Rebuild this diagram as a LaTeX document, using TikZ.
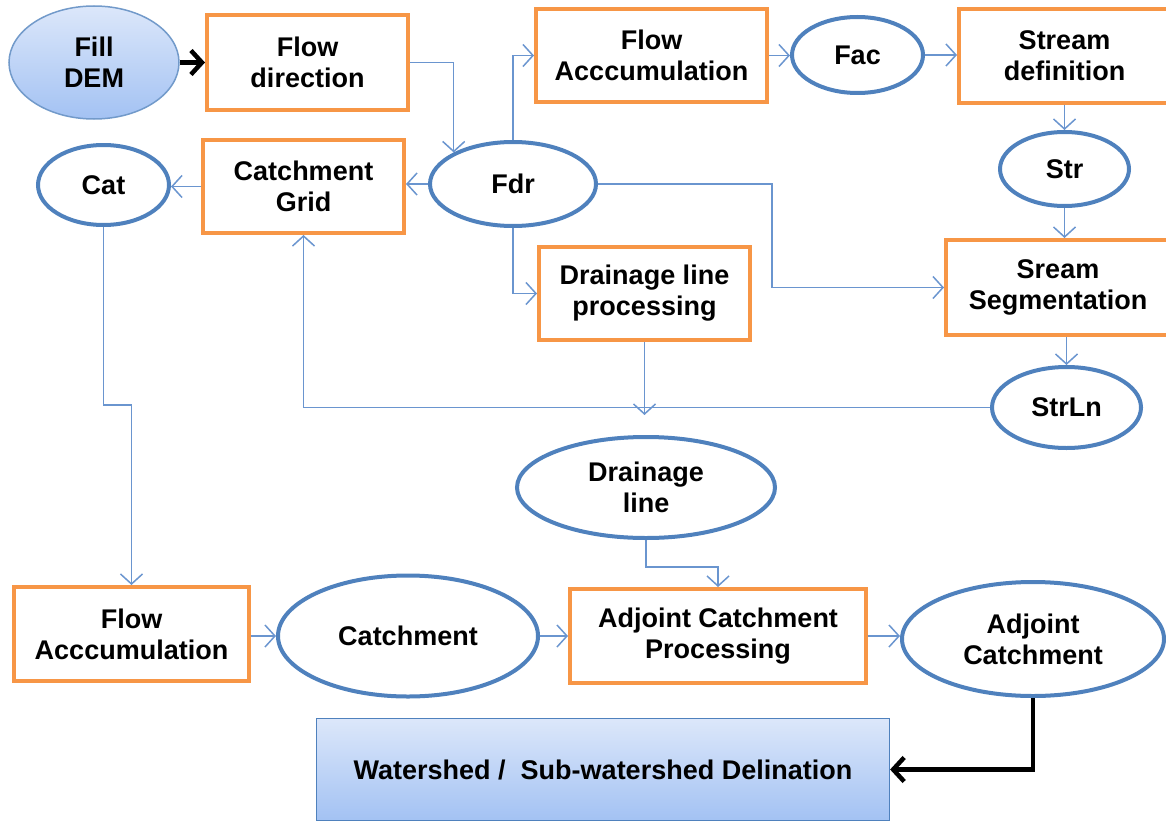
\documentclass[tikz,border=0pt]{standalone}
\usepackage{fontspec}
\setmainfont{Liberation Sans}
\usetikzlibrary{shapes.geometric,arrows.meta}
\definecolor{orng}{HTML}{F79646}
\definecolor{eblue}{HTML}{4F81BD}
\definecolor{lblue}{HTML}{6A95CF}
\definecolor{gtop}{HTML}{DCE7FA}
\definecolor{gbot}{HTML}{A3C2F3}
\tikzset{
  box/.style={draw=orng, line width=4pt, fill=white, rectangle, align=center, inner sep=2pt,
    font=\fontsize{27}{31}\selectfont\bfseries},
  ell/.style={draw=eblue, line width=4pt, fill=white, ellipse, align=center, inner sep=0pt,
    font=\fontsize{27}{31}\selectfont\bfseries},
  ln/.style={draw=lblue, line width=1.5pt, -{Straight Barb[length=10pt,width=22pt]}},
  bk/.style={draw=black, line width=4.5pt, -{Straight Barb[length=11pt,width=24pt]}},
}
\begin{document}
\begin{tikzpicture}[x=1pt,y=-1pt]
\useasboundingbox (0,0) rectangle (1166,824);
% nodes
\node[ell, draw=eblue!80, line width=1.5pt, top color=gtop, bottom color=gbot,
      minimum width=170pt, minimum height=113pt] (dem) at (94,62.5) {Fill\\DEM};
\node[box, minimum width=201pt, minimum height=95pt] (fd) at (307.5,62.5) {Flow\\direction};
\node[box, minimum width=201pt, minimum height=93pt] (cg) at (303.5,186.5) {Catchment\\Grid};
\node[ell, minimum width=131pt, minimum height=80pt] (cat) at (103.5,185) {Cat};
\node[ell, minimum width=166pt, minimum height=84pt] (fdr) at (513,184) {Fdr};
\node[box, minimum width=231pt, minimum height=93pt] (fa1) at (651.5,55.5) {Flow\\Acccumulation};
\node[ell, minimum width=131pt, minimum height=76pt] (fac) at (857.5,55) {Fac};
\node[box, minimum width=211pt, minimum height=94pt] (sd) at (1064.5,56) {Stream\\definition};
\node[ell, minimum width=129pt, minimum height=74pt] (str) at (1064.5,169) {Str};
\node[box, minimum width=224pt, minimum height=95pt] (seg) at (1058,287.5) {Sream\\Segmentation};
\node[ell, minimum width=149pt, minimum height=81pt] (strln) at (1066.5,407.5) {StrLn};
\node[box, minimum width=211pt, minimum height=93pt] (dlp) at (644.5,293.5) {Drainage line\\processing};
\coordinate (j) at (644.5,415);
\node[ell, minimum width=258pt, minimum height=101pt] (dl) at (646,487.5) {Drainage\\line};
\node[box, minimum width=235pt, minimum height=94pt] (fa2) at (131.5,634) {Flow\\Acccumulation};
\node[ell, minimum width=260pt, minimum height=121pt] (catch) at (408,636) {Catchment};
\node[box, minimum width=296pt, minimum height=94pt] (acp) at (718,636) {Adjoint Catchment\\Processing};
\node[ell, minimum width=262pt, minimum height=114pt] (ac) at (1033,639) {Adjoint\\Catchment};
\node[draw=eblue, line width=1.2pt, top color=gtop, bottom color=gbot, rectangle,
      minimum width=573pt, minimum height=102pt,
      font=\fontsize{27}{31}\selectfont\bfseries] (ws) at (603,769.5) {Watershed /\ \ Sub-watershed Delination};
% connectors
\draw[bk] (dem.east) -- (fd.west);
\draw[ln] (fd.east) -| (fdr.152);
\draw[ln] (fdr.north) |- (fa1.west);
\draw[ln] (fa1.east) -- (fa1.east -| fac.west);
\draw[ln] (fac.east) -- (fac.east -| sd.west);
\draw[ln] (sd.south) -- (str.north);
\draw[ln] (str.south) -- (str.south |- seg.north);
\draw[ln] (seg.south -| strln.north) -- (strln.north);
\draw[ln] (fdr.east) -- ++(174,0) |- (seg.west);
\draw[ln] (fdr.west) -- (fdr.west -| cg.east);
\draw[ln] (cg.west) -- (cg.west -| cat.east);
\draw[ln] (fdr.south) |- (dlp.west);
\draw[ln] (dlp.south) -- (j);
\draw[ln] (strln.west) -| (cg.south);
\draw[ln] (cat.south) -- ++(0,178) -| (fa2.north);
\draw[ln] (dl.south) -- ++(0,27) -| (acp.north);
\draw[ln] (fa2.east |- catch.west) -- (catch.west);
\draw[ln] (catch.east) -- (acp.west);
\draw[ln] (acp.east) -- (acp.east -| ac.west);
\draw[bk] (ac.south) |- (ws.east);
\end{tikzpicture}
\end{document}
